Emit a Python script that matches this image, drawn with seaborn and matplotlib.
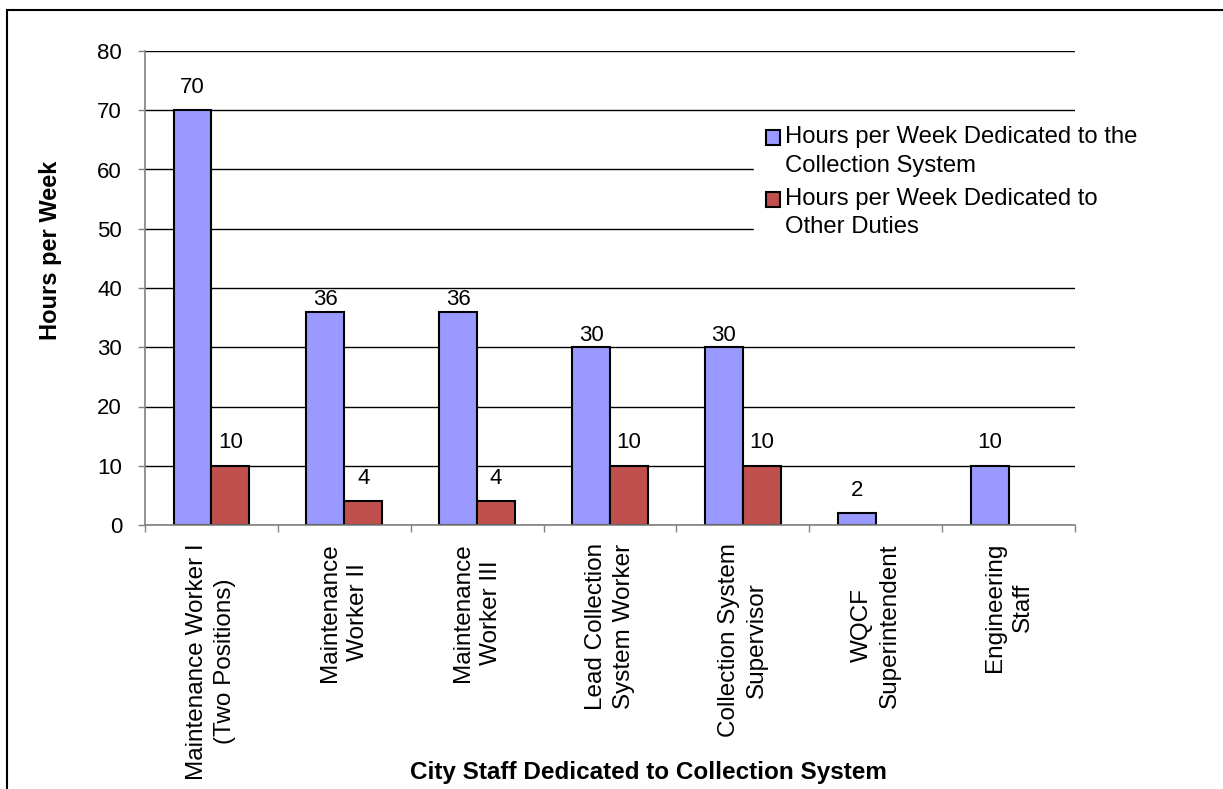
import matplotlib
matplotlib.use("Agg")
import matplotlib.pyplot as plt
import seaborn as sns
import pandas as pd
from matplotlib.patches import Rectangle

categories = [
    "Maintenance Worker I\n(Two Positions)",
    "Maintenance\nWorker II",
    "Maintenance\nWorker III",
    "Lead Collection\nSystem Worker",
    "Collection System\nSupervisor",
    "WQCF\nSuperintendent",
    "Engineering\nStaff",
]
series_names = [
    "Hours per Week Dedicated to the\nCollection System",
    "Hours per Week Dedicated to\nOther Duties",
]
collection_hours = [70, 36, 36, 30, 30, 2, 10]
other_hours = [10, 4, 4, 10, 10, None, None]
y_ticks = [0, 10, 20, 30, 40, 50, 60, 70, 80]
# labels that sit closer to their bar in the original
close_labels = [36, 30]

rows = []
for c, v in zip(categories, collection_hours):
    if v is not None:
        rows.append({"cat": c, "series": series_names[0], "val": v})
for c, v in zip(categories, other_hours):
    if v is not None:
        rows.append({"cat": c, "series": series_names[1], "val": v})
df = pd.DataFrame(rows)

sns.set_theme(style="white")
plt.rcParams["font.family"] = ["Liberation Sans", "DejaVu Sans"]
plt.rcParams["text.color"] = "black"
plt.rcParams["xtick.color"] = "black"
plt.rcParams["ytick.color"] = "black"
plt.rcParams["axes.labelcolor"] = "black"

fig = plt.figure(figsize=(12.23, 7.89), dpi=100)
ax = fig.add_axes([145/1223, 1-525/789, (1075-145)/1223, (525-51)/789])

colors = ["#9999FF", "#C0504D"]
sns.barplot(data=df, x="cat", y="val", hue="series", order=categories,
            hue_order=series_names, palette=colors, width=0.57,
            edgecolor="black", linewidth=1.5, ax=ax, saturation=1,
            errorbar=None)

for cont in ax.containers:
    vals = cont.datavalues
    far = ["" if v in close_labels else f"{v:g}" for v in vals]
    near = [f"{v:g}" if v in close_labels else "" for v in vals]
    ax.bar_label(cont, labels=far, padding=9, fontsize=16, color="black")
    ax.bar_label(cont, labels=near, padding=1, fontsize=16, color="black")

ax.set_ylim(0, 80)
ax.set_xlim(-0.5, len(categories) - 0.5)
ax.set_yticks(y_ticks)
ax.yaxis.grid(True, color="black", linewidth=1)
ax.set_axisbelow(True)
for s in ["top", "right"]:
    ax.spines[s].set_visible(False)
ax.spines["left"].set_color("#808080")
ax.spines["bottom"].set_color("#808080")
ax.spines["left"].set_linewidth(1.2)
ax.spines["bottom"].set_linewidth(1.2)
ax.tick_params(axis="y", which="both", left=True, length=5, width=1,
               color="#808080", labelsize=16, pad=11.5, labelcolor="black")
ax.set_xticks(range(len(categories)))
ax.set_xticklabels(categories, rotation=90, fontsize=17.5, va="top", ha="center",
                   multialignment="center", color="black", linespacing=1.35)
ax.tick_params(axis="x", which="major", bottom=False, length=0, pad=13)
ax.set_xticks([i - 0.5 for i in range(len(categories) + 1)], minor=True)
ax.tick_params(axis="x", which="minor", bottom=True, length=5, width=1,
               color="#808080")

ax.set_ylabel("Hours per Week", fontsize=17, fontweight="bold")
ax.yaxis.set_label_coords(-0.089, 0.58)
ax.set_xlabel("City Staff Dedicated to Collection System", fontsize=17.5,
              fontweight="bold")
ax.xaxis.set_label_coords(0.541, -0.498)

leg = ax.legend(loc="upper left", bbox_to_anchor=(0.655, 0.867), frameon=True,
                fontsize=17.2, handlelength=0.6, handleheight=0.6,
                handletextpad=0.2, labelspacing=0.45, borderaxespad=0,
                borderpad=0.5, fancybox=False)
leg.get_frame().set_facecolor("white")
leg.get_frame().set_edgecolor("white")
leg.get_frame().set_alpha(1)
for t in leg.get_texts():
    t.set_linespacing(1.4)
for h in leg.legend_handles:
    h.set_edgecolor("black")
    h.set_linewidth(1.5)
    h.set_y(h.get_y() + 10)

fig.patches.append(Rectangle((7/1223, -0.2), 1.3, 1.2 - 10/789,
                             transform=fig.transFigure, fill=False,
                             edgecolor="black", linewidth=1.5, clip_on=False))

fig.savefig("out.png", dpi=100, facecolor="white")
